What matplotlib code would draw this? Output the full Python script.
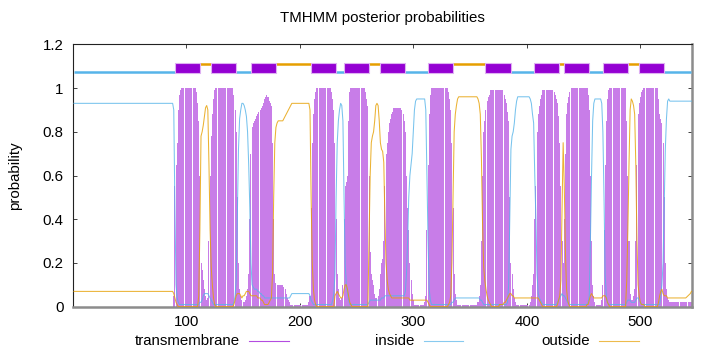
import matplotlib
matplotlib.use("Agg")
import matplotlib.pyplot as plt
from matplotlib.lines import Line2D
from matplotlib.patches import Rectangle
from matplotlib.ticker import FuncFormatter

plt.rcParams['font.family'] = ['Liberation Sans', 'DejaVu Sans']

title = "TMHMM posterior probabilities"
y_label = "probability"
series_names = ["transmembrane", "inside", "outside"]
x_ticks = [100, 200, 300, 400, 500]
y_ticks = [0, 0.2, 0.4, 0.6, 0.8, 1, 1.2]
seq_length = 545

# predicted topology (top track)
helix_start = [90, 122, 157, 210, 239, 271, 313, 363, 406, 433, 467, 499]
helix_end = [112, 144, 179, 232, 261, 293, 335, 386, 428, 455, 489, 521]
inside_start = [1, 144, 232, 293, 386, 455, 521]
inside_end = [90, 157, 239, 313, 406, 467, 545]
outside_start = [112, 179, 261, 335, 428, 489]
outside_end = [122, 210, 271, 363, 433, 499]

# posterior probabilities, residues 1..545 (10 per row)
tm_prob = [
    0, 0, 0, 0, 0, 0, 0, 0, 0, 0,
    0, 0, 0, 0, 0, 0, 0, 0, 0, 0,
    0, 0, 0, 0, 0, 0, 0, 0, 0, 0,
    0, 0, 0, 0, 0, 0, 0, 0, 0, 0,
    0, 0, 0, 0, 0, 0, 0, 0, 0, 0,
    0, 0, 0, 0, 0, 0, 0, 0, 0, 0,
    0, 0, 0, 0, 0, 0, 0, 0, 0, 0,
    0, 0, 0, 0, 0, 0, 0, 0, 0, 0,
    0, 0, 0, 0, 0, 0, 0, 0, 0.05, 0.55,
    0.65, 0.75, 0.9, 0.97, 0.99, 1, 1, 1, 1, 1,
    1, 1, 1, 1, 1, 1, 1, 1, 0.98, 0.93,
    0.85, 0.6, 0.2, 0.17, 0.12, 0.08, 0.05, 0.03, 0.04, 0.3,
    0.6, 0.78, 0.88, 0.95, 0.99, 1, 1, 1, 1, 1,
    1, 1, 1, 1, 1, 1, 1, 1, 1, 1,
    1, 0.97, 0.9, 0.8, 0.5, 0.2, 0.08, 0.05, 0.03, 0.02,
    0.02, 0.03, 0.05, 0.08, 0.15, 0.4, 0.7, 0.82, 0.84, 0.85,
    0.86, 0.87, 0.88, 0.89, 0.9, 0.91, 0.92, 0.93, 0.95, 0.96,
    0.97, 0.96, 0.94, 0.93, 0.92, 0.75, 0.4, 0.15, 0.11, 0.1,
    0.1, 0.1, 0.1, 0.1, 0.1, 0.09, 0.08, 0.06, 0.04, 0.03,
    0.02, 0.01, 0.01, 0.01, 0.01, 0.01, 0.01, 0.01, 0.01, 0.01,
    0.01, 0.01, 0.01, 0.01, 0.01, 0.01, 0.01, 0.02, 0.05, 0.45,
    0.75, 0.88, 0.95, 0.98, 1, 1, 1, 1, 1, 1,
    1, 1, 1, 1, 1, 1, 1, 0.98, 0.95, 0.9,
    0.75, 0.4, 0.15, 0.08, 0.04, 0.03, 0.04, 0.1, 0.4, 0.55,
    0.57, 0.6, 0.85, 0.98, 1, 1, 1, 1, 1, 1,
    1, 1, 1, 1, 1, 1, 1, 0.98, 0.95, 0.92,
    0.6, 0.25, 0.15, 0.12, 0.1, 0.06, 0.04, 0.04, 0.05, 0.08,
    0.15, 0.2, 0.22, 0.3, 0.55, 0.7, 0.75, 0.8, 0.84, 0.86,
    0.88, 0.89, 0.91, 0.91, 0.91, 0.91, 0.91, 0.91, 0.91, 0.9,
    0.88, 0.85, 0.8, 0.6, 0.45, 0.35, 0.2, 0.12, 0.06, 0.03,
    0.01, 0.01, 0.01, 0.01, 0.01, 0.01, 0.01, 0.01, 0.01, 0.02,
    0.05, 0.35, 0.65, 0.88, 0.97, 1, 1, 1, 1, 1,
    1, 1, 1, 1, 1, 1, 1, 1, 1, 1,
    0.98, 0.95, 0.9, 0.75, 0.45, 0.15, 0.06, 0.03, 0.01, 0.01,
    0.01, 0.01, 0.01, 0.01, 0.01, 0.01, 0.01, 0.01, 0.01, 0.01,
    0.01, 0.01, 0.01, 0.01, 0.01, 0.01, 0.02, 0.05, 0.1, 0.3,
    0.6, 0.8, 0.85, 0.9, 0.94, 0.96, 0.97, 0.99, 0.99, 0.99,
    0.99, 0.99, 0.99, 0.99, 0.99, 0.99, 0.99, 0.99, 0.99, 0.97,
    0.95, 0.93, 0.89, 0.85, 0.5, 0.2, 0.15, 0.08, 0.04, 0.02,
    0.01, 0.01, 0.01, 0.01, 0.01, 0.01, 0.01, 0.01, 0.01, 0.01,
    0.01, 0.01, 0.02, 0.05, 0.1, 0.15, 0.4, 0.55, 0.8, 0.88,
    0.92, 0.95, 0.97, 0.99, 0.99, 0.99, 0.99, 0.99, 0.99, 0.99,
    0.99, 0.99, 0.99, 0.98, 0.97, 0.95, 0.93, 0.87, 0.75, 0.55,
    0.3, 0.2, 0.4, 0.7, 0.88, 0.93, 0.96, 0.98, 1, 1,
    1, 1, 1, 1, 1, 1, 1, 1, 1, 1,
    1, 1, 1, 0.97, 0.9, 0.6, 0.3, 0.1, 0.05, 0.02,
    0.01, 0.01, 0.01, 0.01, 0.01, 0.03, 0.1, 0.35, 0.65, 0.85,
    0.95, 0.99, 1, 1, 1, 1, 1, 1, 1, 1,
    1, 1, 1, 1, 1, 1, 1, 0.85, 0.6, 0.3,
    0.06, 0.03, 0.03, 0.05, 0.08, 0.3, 0.65, 0.88, 0.93, 0.96,
    0.98, 0.99, 1, 1, 1, 1, 1, 1, 1, 1,
    1, 1, 1, 1, 1, 0.95, 0.88, 0.86, 0.84, 0.75,
    0.5, 0.2, 0.08, 0.04, 0.03, 0.02, 0.02, 0.02, 0.02, 0.02,
    0.02, 0.02, 0.02, 0.02, 0.02, 0.02, 0.02, 0.02, 0.02, 0.02,
    0.02, 0.02, 0.02, 0.02, 0.02,
]

inside_prob = [
    0.93, 0.93, 0.93, 0.93, 0.93, 0.93, 0.93, 0.93, 0.93, 0.93,
    0.93, 0.93, 0.93, 0.93, 0.93, 0.93, 0.93, 0.93, 0.93, 0.93,
    0.93, 0.93, 0.93, 0.93, 0.93, 0.93, 0.93, 0.93, 0.93, 0.93,
    0.93, 0.93, 0.93, 0.93, 0.93, 0.93, 0.93, 0.93, 0.93, 0.93,
    0.93, 0.93, 0.93, 0.93, 0.93, 0.93, 0.93, 0.93, 0.93, 0.93,
    0.93, 0.93, 0.93, 0.93, 0.93, 0.93, 0.93, 0.93, 0.93, 0.93,
    0.93, 0.93, 0.93, 0.93, 0.93, 0.93, 0.93, 0.93, 0.93, 0.93,
    0.93, 0.93, 0.93, 0.93, 0.93, 0.93, 0.93, 0.93, 0.93, 0.93,
    0.93, 0.93, 0.93, 0.93, 0.93, 0.93, 0.93, 0.93, 0.9, 0.45,
    0.1, 0.04, 0.02, 0.01, 0.01, 0.01, 0.01, 0.01, 0.01, 0.01,
    0.01, 0.01, 0.01, 0.01, 0.01, 0.01, 0.01, 0.01, 0.01, 0.01,
    0.01, 0.02, 0.02, 0.03, 0.05, 0.06, 0.06, 0.06, 0.06, 0.05,
    0.04, 0.03, 0.02, 0.01, 0.01, 0.01, 0.01, 0.01, 0.01, 0.01,
    0.01, 0.01, 0.01, 0.01, 0.01, 0.01, 0.01, 0.01, 0.01, 0.01,
    0.01, 0.02, 0.05, 0.12, 0.42, 0.72, 0.86, 0.9, 0.93, 0.93,
    0.92, 0.9, 0.87, 0.8, 0.65, 0.45, 0.2, 0.1, 0.09, 0.08,
    0.08, 0.08, 0.07, 0.07, 0.06, 0.06, 0.05, 0.05, 0.04, 0.04,
    0.04, 0.04, 0.04, 0.04, 0.04, 0.04, 0.04, 0.04, 0.04, 0.04,
    0.04, 0.04, 0.04, 0.04, 0.04, 0.04, 0.04, 0.04, 0.04, 0.04,
    0.04, 0.05, 0.06, 0.06, 0.06, 0.06, 0.06, 0.06, 0.06, 0.06,
    0.06, 0.06, 0.06, 0.06, 0.06, 0.06, 0.06, 0.06, 0.05, 0.03,
    0.02, 0.01, 0.01, 0.01, 0.01, 0.01, 0.01, 0.01, 0.01, 0.01,
    0.01, 0.01, 0.01, 0.01, 0.01, 0.01, 0.01, 0.01, 0.03, 0.06,
    0.15, 0.5, 0.75, 0.85, 0.9, 0.93, 0.92, 0.85, 0.5, 0.2,
    0.1, 0.06, 0.03, 0.01, 0.01, 0.01, 0.01, 0.01, 0.01, 0.01,
    0.01, 0.01, 0.01, 0.01, 0.01, 0.01, 0.01, 0.01, 0.01, 0.01,
    0.02, 0.03, 0.03, 0.03, 0.03, 0.03, 0.03, 0.03, 0.03, 0.03,
    0.03, 0.04, 0.04, 0.04, 0.05, 0.05, 0.05, 0.05, 0.05, 0.05,
    0.05, 0.05, 0.05, 0.05, 0.05, 0.05, 0.05, 0.05, 0.05, 0.05,
    0.05, 0.05, 0.07, 0.15, 0.3, 0.5, 0.6, 0.65, 0.7, 0.8,
    0.9, 0.94, 0.95, 0.95, 0.95, 0.95, 0.95, 0.95, 0.95, 0.95,
    0.9, 0.6, 0.3, 0.08, 0.03, 0.01, 0.01, 0.01, 0.01, 0.01,
    0.01, 0.01, 0.01, 0.01, 0.01, 0.01, 0.01, 0.01, 0.01, 0.01,
    0.01, 0.01, 0.01, 0.02, 0.02, 0.03, 0.04, 0.04, 0.04, 0.04,
    0.04, 0.04, 0.04, 0.04, 0.04, 0.04, 0.04, 0.04, 0.04, 0.04,
    0.04, 0.04, 0.04, 0.04, 0.04, 0.04, 0.04, 0.04, 0.03, 0.03,
    0.02, 0.01, 0.01, 0.01, 0.01, 0.01, 0.01, 0.01, 0.01, 0.01,
    0.01, 0.01, 0.01, 0.01, 0.01, 0.01, 0.01, 0.01, 0.01, 0.01,
    0.01, 0.01, 0.02, 0.1, 0.4, 0.72, 0.78, 0.8, 0.84, 0.9,
    0.94, 0.96, 0.96, 0.96, 0.96, 0.96, 0.96, 0.96, 0.96, 0.96,
    0.96, 0.96, 0.95, 0.93, 0.88, 0.84, 0.6, 0.4, 0.15, 0.06,
    0.04, 0.03, 0.02, 0.01, 0.01, 0.01, 0.01, 0.01, 0.01, 0.01,
    0.01, 0.01, 0.01, 0.01, 0.01, 0.01, 0.02, 0.03, 0.04, 0.05,
    0.06, 0.05, 0.05, 0.04, 0.03, 0.02, 0.01, 0.01, 0.01, 0.01,
    0.01, 0.01, 0.01, 0.01, 0.01, 0.01, 0.01, 0.01, 0.01, 0.01,
    0.01, 0.01, 0.01, 0.02, 0.05, 0.3, 0.6, 0.85, 0.93, 0.95,
    0.95, 0.95, 0.95, 0.95, 0.95, 0.93, 0.8, 0.5, 0.15, 0.05,
    0.02, 0.01, 0.01, 0.01, 0.01, 0.01, 0.01, 0.01, 0.01, 0.01,
    0.01, 0.01, 0.01, 0.01, 0.01, 0.01, 0.01, 0.02, 0.03, 0.03,
    0.03, 0.02, 0.02, 0.02, 0.02, 0.03, 0.04, 0.04, 0.03, 0.02,
    0.01, 0.01, 0.01, 0.01, 0.01, 0.01, 0.01, 0.01, 0.01, 0.01,
    0.01, 0.01, 0.01, 0.01, 0.01, 0.01, 0.01, 0.05, 0.1, 0.2,
    0.45, 0.72, 0.86, 0.94, 0.95, 0.94, 0.94, 0.94, 0.94, 0.94,
    0.94, 0.94, 0.94, 0.94, 0.94, 0.94, 0.94, 0.94, 0.94, 0.94,
    0.94, 0.94, 0.94, 0.94, 0.94,
]

outside_prob = [
    0.07, 0.07, 0.07, 0.07, 0.07, 0.07, 0.07, 0.07, 0.07, 0.07,
    0.07, 0.07, 0.07, 0.07, 0.07, 0.07, 0.07, 0.07, 0.07, 0.07,
    0.07, 0.07, 0.07, 0.07, 0.07, 0.07, 0.07, 0.07, 0.07, 0.07,
    0.07, 0.07, 0.07, 0.07, 0.07, 0.07, 0.07, 0.07, 0.07, 0.07,
    0.07, 0.07, 0.07, 0.07, 0.07, 0.07, 0.07, 0.07, 0.07, 0.07,
    0.07, 0.07, 0.07, 0.07, 0.07, 0.07, 0.07, 0.07, 0.07, 0.07,
    0.07, 0.07, 0.07, 0.07, 0.07, 0.07, 0.07, 0.07, 0.07, 0.07,
    0.07, 0.07, 0.07, 0.07, 0.07, 0.07, 0.07, 0.07, 0.07, 0.07,
    0.07, 0.07, 0.07, 0.07, 0.07, 0.07, 0.07, 0.07, 0.06, 0.04,
    0.02, 0.01, 0, 0, 0, 0, 0, 0, 0, 0,
    0, 0, 0, 0, 0, 0, 0, 0, 0, 0,
    0.05, 0.35, 0.78, 0.8, 0.83, 0.87, 0.91, 0.92, 0.9, 0.65,
    0.35, 0.18, 0.1, 0.04, 0.01, 0, 0, 0, 0, 0,
    0, 0, 0, 0, 0, 0, 0, 0, 0, 0,
    0, 0.01, 0.03, 0.05, 0.06, 0.06, 0.06, 0.05, 0.04, 0.05,
    0.05, 0.06, 0.07, 0.07, 0.07, 0.06, 0.05, 0.05, 0.05, 0.05,
    0.05, 0.05, 0.04, 0.04, 0.04, 0.03, 0.03, 0.02, 0.01, 0.01,
    0.01, 0.01, 0.02, 0.03, 0.04, 0.15, 0.5, 0.75, 0.82, 0.84,
    0.85, 0.85, 0.85, 0.85, 0.85, 0.86, 0.87, 0.88, 0.89, 0.9,
    0.91, 0.92, 0.93, 0.93, 0.93, 0.93, 0.93, 0.93, 0.93, 0.93,
    0.93, 0.93, 0.93, 0.93, 0.93, 0.93, 0.93, 0.93, 0.9, 0.5,
    0.2, 0.08, 0.03, 0.01, 0, 0, 0, 0, 0, 0,
    0, 0, 0, 0, 0, 0, 0, 0, 0, 0,
    0.05, 0.06, 0.07, 0.06, 0.05, 0.04, 0.04, 0.05, 0.08, 0.1,
    0.1, 0.08, 0.05, 0.02, 0.01, 0, 0, 0, 0, 0,
    0, 0, 0, 0, 0, 0, 0, 0, 0, 0,
    0.3, 0.6, 0.75, 0.78, 0.8, 0.85, 0.92, 0.93, 0.92, 0.85,
    0.75, 0.72, 0.71, 0.66, 0.4, 0.2, 0.12, 0.08, 0.06, 0.05,
    0.04, 0.04, 0.04, 0.04, 0.04, 0.04, 0.04, 0.04, 0.04, 0.04,
    0.04, 0.04, 0.04, 0.04, 0.04, 0.04, 0.03, 0.03, 0.03, 0.03,
    0.03, 0.03, 0.03, 0.03, 0.03, 0.03, 0.03, 0.03, 0.03, 0.03,
    0.03, 0.03, 0.02, 0.01, 0, 0, 0, 0, 0, 0,
    0, 0, 0, 0, 0, 0, 0, 0, 0, 0,
    0.01, 0.02, 0.05, 0.2, 0.5, 0.8, 0.88, 0.92, 0.95, 0.96,
    0.96, 0.96, 0.96, 0.96, 0.96, 0.96, 0.96, 0.96, 0.96, 0.96,
    0.96, 0.96, 0.96, 0.96, 0.96, 0.96, 0.95, 0.93, 0.88, 0.68,
    0.38, 0.18, 0.12, 0.08, 0.05, 0.03, 0.02, 0.01, 0, 0,
    0, 0, 0, 0, 0, 0.01, 0.01, 0.01, 0.01, 0.02,
    0.02, 0.03, 0.04, 0.05, 0.06, 0.06, 0.05, 0.05, 0.04, 0.04,
    0.04, 0.04, 0.04, 0.04, 0.04, 0.04, 0.04, 0.04, 0.04, 0.04,
    0.04, 0.04, 0.04, 0.04, 0.04, 0.04, 0.04, 0.04, 0.04, 0.04,
    0.03, 0.02, 0.01, 0, 0, 0, 0, 0, 0, 0,
    0, 0, 0, 0, 0, 0, 0.01, 0.03, 0.05, 0.12,
    0.45, 0.75, 0.55, 0.25, 0.08, 0.03, 0.01, 0, 0, 0,
    0, 0, 0, 0, 0, 0, 0, 0, 0, 0,
    0, 0, 0.01, 0.01, 0.03, 0.05, 0.06, 0.05, 0.04, 0.04,
    0.04, 0.04, 0.04, 0.04, 0.04, 0.04, 0.05, 0.05, 0.05, 0.04,
    0.02, 0.01, 0, 0, 0, 0, 0, 0, 0, 0,
    0, 0, 0, 0, 0, 0, 0, 0.12, 0.35, 0.65,
    0.9, 0.95, 0.94, 0.92, 0.88, 0.65, 0.3, 0.1, 0.05, 0.02,
    0.01, 0.01, 0.01, 0, 0, 0, 0, 0, 0, 0,
    0, 0, 0, 0, 0, 0.02, 0.05, 0.07, 0.08, 0.06,
    0.05, 0.05, 0.05, 0.04, 0.04, 0.04, 0.04, 0.04, 0.04, 0.04,
    0.04, 0.04, 0.04, 0.04, 0.04, 0.04, 0.04, 0.04, 0.04, 0.04,
    0.045, 0.05, 0.055, 0.06, 0.07,
]

residues = list(range(1, seq_length + 1))

C_TM = '#9400D3'
C_TM_BAR = '#c87de8'
C_IN = '#56B4E9'
C_OUT = '#E69F00'

W, H = 720, 352
fig = plt.figure(figsize=(W / 100, H / 100), dpi=100)
L, R, T, B = 73.3, 692.0, 44.3, 306.7
ax = fig.add_axes([L / W, 1 - B / H, (R - L) / W, (B - T) / H])

ax.bar(residues, tm_prob, width=0.9, color=C_TM_BAR, linewidth=0, zorder=2)
ax.plot(residues, inside_prob, color=C_IN, lw=0.75, alpha=0.8, zorder=3)
ax.plot(residues, outside_prob, color=C_OUT, lw=0.75, alpha=0.8, zorder=3)

# top track
for s, e in zip(inside_start, inside_end):
    ax.plot([s, e], [1.072, 1.072], color=C_IN, lw=1.8, solid_capstyle='butt', zorder=4)
for s, e in zip(outside_start, outside_end):
    ax.plot([s, e], [1.111, 1.111], color=C_OUT, lw=1.8, solid_capstyle='butt', zorder=4)
for s, e in zip(helix_start, helix_end):
    ax.add_patch(Rectangle((s, 1.067), e - s, 0.046, facecolor=C_TM,
                           edgecolor='#deb0f2', lw=0.8, zorder=5))

ax.set_xlim(0.5, seq_length + 0.5)
ax.set_ylim(0, 1.2)
ax.set_xticks(x_ticks)
ax.set_yticks(y_ticks)
ax.yaxis.set_major_formatter(FuncFormatter(lambda v, _: f"{v:g}"))
ax.tick_params(axis='both', direction='in', length=3.2, width=0.6,
               top=True, right=True, labelsize=10.8, colors='#222222',
               labelcolor='black')
ax.tick_params(axis='x', pad=6)
ax.tick_params(axis='y', pad=7)

for side in ['left', 'top']:
    ax.spines[side].set_color('#222222')
    ax.spines[side].set_linewidth(0.8)
for side in ['bottom', 'right']:
    ax.spines[side].set_color('#8c8c8c')
    ax.spines[side].set_linewidth(1.8)

fig.text(382.5 / W, 1 - 18 / H, title, ha='center', va='center', fontsize=10.8)
fig.text(15 / W, 1 - 175.5 / H, y_label, ha='center', va='center',
         rotation=90, fontsize=10.8)

# legend (bottom row)
legend_text_right = [240, 414, 590]
legend_line_x = [(249, 289), (424, 463), (599, 639)]
legend_colors = [C_TM, C_IN, C_OUT]
ly = 1 - 341 / H
for name, xr, (x0, x1), c in zip(series_names, legend_text_right, legend_line_x, legend_colors):
    fig.text(xr / W, ly, name, ha='right', va='center', fontsize=10.8)
    fig.add_artist(Line2D([x0 / W, x1 / W], [ly, ly], transform=fig.transFigure,
                          color=c, lw=0.8, alpha=0.7))

fig.savefig('out.png', dpi=100)
